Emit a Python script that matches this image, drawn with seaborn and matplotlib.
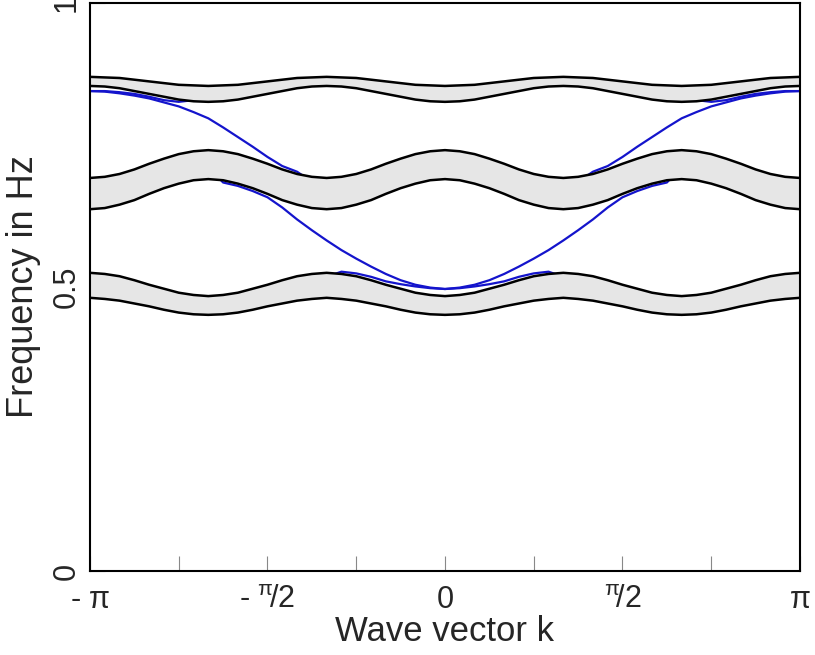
import numpy as np
import pandas as pd
import matplotlib
matplotlib.use("Agg")
import matplotlib.pyplot as plt
import seaborn as sns

# wave vector grid in units of pi (steps of pi/24)
k_pi = np.arange(-24, 25) / 24

# band edges (frequency in Hz)
top_upper = [0.870, 0.869, 0.868, 0.865, 0.862, 0.859, 0.856, 0.855, 0.854, 0.855, 0.856, 0.859, 0.862, 0.865, 0.868, 0.869, 0.870,
             0.869, 0.868, 0.865, 0.862, 0.859, 0.856, 0.855, 0.854, 0.855, 0.856, 0.859, 0.862, 0.865, 0.868, 0.869, 0.870,
             0.869, 0.868, 0.865, 0.862, 0.859, 0.856, 0.855, 0.854, 0.855, 0.856, 0.859, 0.862, 0.865, 0.868, 0.869, 0.870]
top_lower = [0.854, 0.853, 0.850, 0.845, 0.840, 0.835, 0.830, 0.827, 0.826, 0.827, 0.830, 0.835, 0.840, 0.845, 0.850, 0.853, 0.854,
             0.853, 0.850, 0.845, 0.840, 0.835, 0.830, 0.827, 0.826, 0.827, 0.830, 0.835, 0.840, 0.845, 0.850, 0.853, 0.854,
             0.853, 0.850, 0.845, 0.840, 0.835, 0.830, 0.827, 0.826, 0.827, 0.830, 0.835, 0.840, 0.845, 0.850, 0.853, 0.854]
mid_upper = [0.692, 0.694, 0.699, 0.707, 0.717, 0.726, 0.734, 0.739, 0.741, 0.739, 0.734, 0.726, 0.717, 0.707, 0.699, 0.694, 0.692,
             0.694, 0.699, 0.707, 0.717, 0.726, 0.734, 0.739, 0.741, 0.739, 0.734, 0.726, 0.717, 0.707, 0.699, 0.694, 0.692,
             0.694, 0.699, 0.707, 0.717, 0.726, 0.734, 0.739, 0.741, 0.739, 0.734, 0.726, 0.717, 0.707, 0.699, 0.694, 0.692]
mid_lower = [0.637, 0.639, 0.645, 0.653, 0.664, 0.674, 0.682, 0.688, 0.690, 0.688, 0.682, 0.674, 0.664, 0.653, 0.645, 0.639, 0.637,
             0.639, 0.645, 0.653, 0.664, 0.674, 0.682, 0.688, 0.690, 0.688, 0.682, 0.674, 0.664, 0.653, 0.645, 0.639, 0.637,
             0.639, 0.645, 0.653, 0.664, 0.674, 0.682, 0.688, 0.690, 0.688, 0.682, 0.674, 0.664, 0.653, 0.645, 0.639, 0.637]
low_upper = [0.525, 0.523, 0.519, 0.512, 0.504, 0.497, 0.490, 0.486, 0.484, 0.486, 0.490, 0.497, 0.504, 0.512, 0.519, 0.523, 0.525,
             0.523, 0.519, 0.512, 0.504, 0.497, 0.490, 0.486, 0.484, 0.486, 0.490, 0.497, 0.504, 0.512, 0.519, 0.523, 0.525,
             0.523, 0.519, 0.512, 0.504, 0.497, 0.490, 0.486, 0.484, 0.486, 0.490, 0.497, 0.504, 0.512, 0.519, 0.523, 0.525]
low_lower = [0.481, 0.479, 0.476, 0.471, 0.466, 0.460, 0.455, 0.452, 0.451, 0.452, 0.455, 0.460, 0.466, 0.471, 0.476, 0.479, 0.481,
             0.479, 0.476, 0.471, 0.466, 0.460, 0.455, 0.452, 0.451, 0.452, 0.455, 0.460, 0.466, 0.471, 0.476, 0.479, 0.481,
             0.479, 0.476, 0.471, 0.466, 0.460, 0.455, 0.452, 0.451, 0.452, 0.455, 0.460, 0.466, 0.471, 0.476, 0.479, 0.481]

# blue dispersion curves, drawn behind the bands (only the parts in the gaps show)
blue_p = [0.845, 0.844, 0.841, 0.837, 0.832, 0.825, 0.818, 0.808, 0.797, 0.781, 0.764, 0.747, 0.729,
          0.713, 0.703, 0.685, 0.672, 0.670, 0.675, 0.683, 0.692, 0.701, 0.709, 0.714, 0.716,
          0.714, 0.709, 0.701, 0.692, 0.683, 0.675, 0.670, 0.672, 0.685, 0.703, 0.713,
          0.729, 0.747, 0.764, 0.781, 0.797, 0.808, 0.818, 0.825, 0.832, 0.837, 0.841, 0.844, 0.845]
blue_q = [0.660, 0.662, 0.668, 0.677, 0.688, 0.698, 0.706, 0.711, 0.712, 0.684, 0.678, 0.669, 0.658,
          0.640, 0.619, 0.600, 0.582, 0.565, 0.550, 0.536, 0.523, 0.512, 0.504, 0.499, 0.4965,
          0.499, 0.504, 0.512, 0.523, 0.536, 0.550, 0.565, 0.582, 0.600, 0.619, 0.640,
          0.658, 0.669, 0.678, 0.684, 0.712, 0.711, 0.706, 0.698, 0.688, 0.677, 0.668, 0.662, 0.660]
blue_r = [0.845, 0.845, 0.843, 0.840, 0.835, 0.829, 0.826, 0.829, 0.836, 0.840, 0.843, 0.847, 0.851,
          0.855, 0.859, 0.861, 0.862, 0.861, 0.859, 0.855, 0.851, 0.847, 0.843, 0.840, 0.840,
          0.840, 0.843, 0.847, 0.851, 0.855, 0.859, 0.861, 0.862, 0.861, 0.859, 0.855,
          0.851, 0.847, 0.843, 0.840, 0.836, 0.829, 0.826, 0.829, 0.835, 0.840, 0.843, 0.845, 0.845]
blue_s = [0.503, 0.501, 0.4975, 0.4915, 0.485, 0.4785, 0.4725, 0.469, 0.4675, 0.469, 0.4725, 0.4785, 0.485,
          0.4915, 0.4975, 0.505, 0.518, 0.527, 0.524, 0.518, 0.510, 0.505, 0.501, 0.498, 0.4965,
          0.498, 0.501, 0.505, 0.510, 0.518, 0.524, 0.527, 0.518, 0.505, 0.4975, 0.4915,
          0.485, 0.4785, 0.4725, 0.469, 0.4675, 0.469, 0.4725, 0.4785, 0.485, 0.4915, 0.4975, 0.501, 0.503]

tick_pos = [-1, -0.5, 0, 0.5, 1]
tick_labels = [r"- $\pi$", r"- $^{\pi}\!/2$", "0", r"$^{\pi}\!/2$", r"$\pi$"]

sns.set_theme(style="white")
plt.rcParams["font.family"] = ["Liberation Sans", "DejaVu Sans"]
plt.rcParams["mathtext.fontset"] = "custom"
plt.rcParams["mathtext.rm"] = "Liberation Sans"
plt.rcParams["mathtext.it"] = "Liberation Sans"

k = k_pi * np.pi
blue = pd.DataFrame({
    "k": np.tile(k, 4),
    "f": blue_p + blue_q + blue_r + blue_s,
    "curve": np.repeat(["p", "q", "r", "s"], len(k)),
})

fig = plt.figure(figsize=(8.15, 6.55), dpi=100)
ax = fig.add_axes([0.1104, 0.1282, 0.8712, 0.8672])

sns.lineplot(data=blue, x="k", y="f", units="curve", estimator=None, sort=False,
             ax=ax, color="#1414cc", lw=1.6, zorder=1)

for up, lo in [(top_upper, top_lower), (mid_upper, mid_lower), (low_upper, low_lower)]:
    ax.fill_between(k, lo, up, color="#e6e6e6", lw=0, zorder=2)
    sns.lineplot(x=k, y=up, ax=ax, color="black", lw=1.8, sort=False, estimator=None, zorder=3)
    sns.lineplot(x=k, y=lo, ax=ax, color="black", lw=1.8, sort=False, estimator=None, zorder=3)

ax.set_xlim(-np.pi, np.pi)
ax.set_ylim(0, 1)
ax.set_xticks([p * np.pi for p in tick_pos])
ax.set_xticklabels(tick_labels, fontsize=22)
ax.set_xticks(np.arange(-3, 4, 2) * np.pi / 4, minor=True)
ax.set_yticks([0, 0.5, 1])
ax.set_yticklabels(["0", "0.5", "1"], fontsize=22, rotation=90, va="center")
ax.tick_params(axis="both", which="both", direction="in", length=11, width=0.8,
               color="#888888", bottom=True, left=True)
ax.tick_params(axis="x", which="both", pad=10)
ax.tick_params(axis="y", which="both", pad=6)
for s in ax.spines.values():
    s.set_color("black")
    s.set_linewidth(1.5)

ax.set_xlabel("Wave vector k", fontsize=25, labelpad=0)
ax.set_ylabel("Frequency in Hz", fontsize=26, labelpad=8)

fig.savefig("out.png", dpi=100)
